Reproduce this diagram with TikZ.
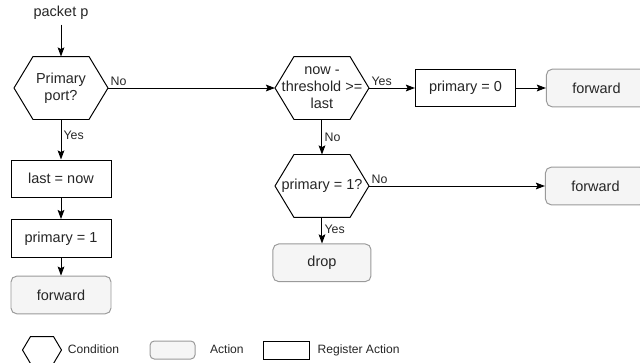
\documentclass[tikz,border=0pt]{standalone}
\usepackage{fontspec}
\setmainfont{Liberation Sans}
\usetikzlibrary{shapes,arrows.meta,positioning}

\definecolor{actfill}{HTML}{F5F5F5}
\definecolor{actline}{HTML}{9A9A9A}
\definecolor{txt}{HTML}{262626}

\begin{document}
\begin{tikzpicture}[
    node distance=1cm,
    line width=0.7pt,
    cond/.style={rectangle, minimum width=2.325cm, minimum height=1.55cm, inner sep=0pt, align=center, text=txt, font=\fontsize{10.3}{12}\selectfont,
        append after command={\pgfextra{\draw[line join=round] (\tikzlastnode.west) -- ([xshift=#1]\tikzlastnode.north west) -- ([xshift=-#1]\tikzlastnode.north east) -- (\tikzlastnode.east) -- ([xshift=-#1]\tikzlastnode.south east) -- ([xshift=#1]\tikzlastnode.south west) -- cycle;}}},
    cond/.default=0.475cm,
    regact/.style={rectangle, draw, fill=white, minimum width=2.5cm, minimum height=0.94cm, text=txt, font=\fontsize{10.3}{12}\selectfont},
    act/.style={rectangle, draw=actline, fill=actfill, rounded corners=4pt, minimum width=2.5cm, minimum height=0.94cm, text=txt, font=\fontsize{10.3}{12}\selectfont},
    lbl/.style={font=\fontsize{8.8}{10}\selectfont, text=txt, inner sep=1.5pt},
    legtxt/.style={font=\fontsize{8.6}{10}\selectfont, text=txt, inner sep=0pt, text height=0.72em, text depth=0.2em},
    arrow/.style={-{Stealth[length=6.5pt, width=4.8pt, inset=1.2pt]}}
]
\useasboundingbox (0,0) rectangle (16,-9.05);

% Entry and primary port check (left column)
\node[cond] (cond1) at (1.525,-2.2) {Primary\\port?};
\node[text=txt, font=\fontsize{10.3}{12}\selectfont, above=0.8cm of cond1] (pkt) {packet p};
\node[regact, below=1cm of cond1] (lastnow) {last = now};
\node[regact, below=0.525cm of lastnow] (prim1) {primary = 1};
\node[act, below=0.45cm of prim1] (fwd1) {forward};

% Threshold check (right part)
\node[cond, right=4.175cm of cond1] (cond2) {now -\\threshold >=\\last};
\node[regact, right=1.15cm of cond2] (prim0) {primary = 0};
\node[act, right=0.75cm of prim0] (fwd2) {forward};
\node[cond, below=0.875cm of cond2] (cond3) {primary = 1?};
\node[act, minimum width=2.45cm, below=0.65cm of cond3] (drop) {drop};
\node[act, right=4.4cm of cond3] (fwd3) {forward};

% Legend
\node[cond=0.2cm, minimum width=0.95cm, minimum height=0.65cm] (legcond) at (1.05,-8.75) {};
\node[legtxt, right=0.15cm of legcond] (legcondtxt) {Condition};
\node[act, rounded corners=3pt, minimum width=1.125cm, minimum height=0.45cm, right=0.75cm of legcondtxt] (legact) {};
\node[legtxt, right=0.35cm of legact] (legacttxt) {Action};
\node[regact, minimum width=1.15cm, minimum height=0.45cm, right=0.475cm of legacttxt] (legreg) {};
\node[legtxt, right=0.175cm of legreg] (legregtxt) {Register Action};

% Flow
\draw[arrow] (pkt) -- (cond1);
\draw[arrow] (cond1) -- node[lbl, pos=0, anchor=south west] {No} (cond2);
\draw[arrow] (cond1) -- node[lbl, pos=0.4, right] {Yes} (lastnow);
\draw[arrow] (lastnow) -- (prim1);
\draw[arrow] (prim1) -- (fwd1);
\draw[arrow] (cond2) -- node[lbl, pos=0, anchor=south west] {Yes} (prim0);
\draw[arrow] (prim0) -- (fwd2);
\draw[arrow] (cond2) -- node[lbl, pos=0.5, right] {No} (cond3);
\draw[arrow] (cond3) -- node[lbl, pos=0, anchor=south west] {No} (fwd3);
\draw[arrow] (cond3) -- node[lbl, pos=0.45, right] {Yes} (drop);

\end{tikzpicture}
\end{document}
